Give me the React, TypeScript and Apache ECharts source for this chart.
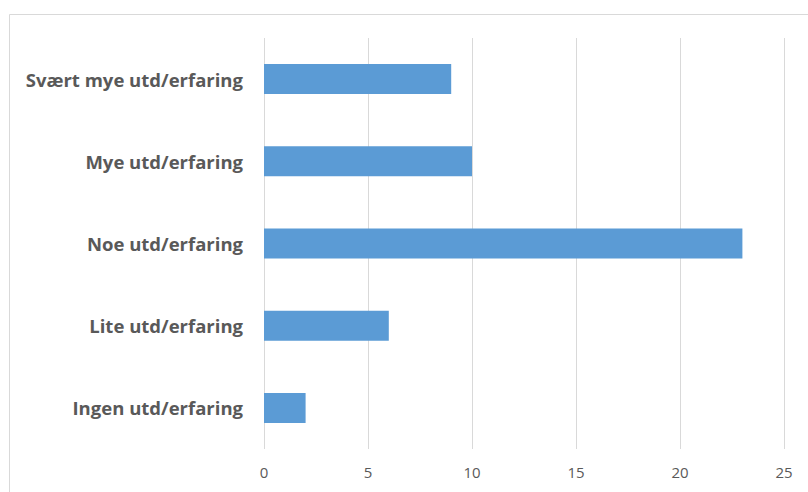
import React, { useEffect, useRef } from "react";
import * as echarts from "echarts";

const categories = [
  "Ingen utd/erfaring",
  "Lite utd/erfaring",
  "Noe utd/erfaring",
  "Mye utd/erfaring",
  "Svært mye utd/erfaring",
];
const values = [2, 6, 23, 10, 9];
const xTicks = { min: 0, max: 25, interval: 5 };

export default function App() {
  const ref = useRef<HTMLDivElement>(null);
  useEffect(() => {
    const chart = echarts.init(ref.current!, null, { renderer: "svg" });
    chart.setOption({
      animation: false,
      backgroundColor: "#ffffff",
      graphic: [
        {
          type: "rect",
          shape: { x: 9.5, y: 14.5, width: 1000, height: 1000 },
          style: { fill: "none", stroke: "#d9d9d9", lineWidth: 1 },
          silent: true,
        },
      ],
      grid: { left: 264, right: 24, top: 38, bottom: 43, containLabel: false },
      xAxis: {
        type: "value",
        min: xTicks.min,
        max: xTicks.max,
        interval: xTicks.interval,
        axisLine: { show: false },
        axisTick: { show: false },
        splitLine: { show: true, lineStyle: { color: "#d9d9d9", width: 1 } },
        axisLabel: {
          color: "#595959",
          fontSize: 15,
          fontFamily: "Open Sans, Liberation Sans, sans-serif",
          margin: 15,
        },
      },
      yAxis: {
        type: "category",
        data: categories,
        axisLine: { show: false },
        axisTick: { show: false },
        splitLine: { show: false },
        axisLabel: {
          color: "#595959",
          fontSize: 18.5,
          fontWeight: "bold",
          fontFamily: "Open Sans, Liberation Sans, sans-serif",
          margin: 21,
        },
      },
      series: [
        {
          type: "bar",
          data: values,
          barWidth: 30,
          itemStyle: { color: "#5b9bd5" },
        },
      ],
    });
    return () => chart.dispose();
  }, []);
  return (
    <div
      ref={ref}
      style={{ position: "absolute", left: 0, top: 0, width: 808, height: 492 }}
    />
  );
}
